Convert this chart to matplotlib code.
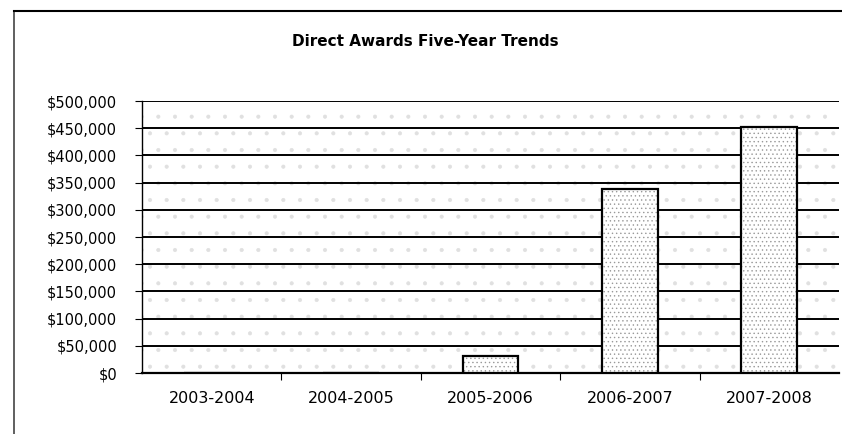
import matplotlib.pyplot as plt
from matplotlib.ticker import FuncFormatter
from matplotlib.lines import Line2D

years = ['2003-2004', '2004-2005', '2005-2006', '2006-2007', '2007-2008']
awards = [0, 0, 32000, 338000, 452000]

plt.rcParams['font.family'] = ['DejaVu Sans']
plt.rcParams['hatch.linewidth'] = 0.5

fig = plt.figure(figsize=(8.42, 4.34), dpi=100)
ax = fig.add_axes([142 / 842, 1 - 373 / 434, 697 / 842, 272 / 434])

# faint stippled plot background
ax.set_facecolor('white')
ax.patch.set_hatch('.')
ax.patch.set_edgecolor('#e0e0e0')

x = range(len(years))
# stipple fill of the bars, then black outline on top
ax.bar(x, awards, width=0.4, facecolor='white', edgecolor='#999999',
       linewidth=0, hatch='....', zorder=3)
ax.bar(x, awards, width=0.4, facecolor='none', edgecolor='black',
       linewidth=1.6, zorder=4)

ax.set_xlim(-0.5, len(years) - 0.5)
ax.set_ylim(0, 500000)
ax.set_yticks(range(0, 500001, 50000))
ax.yaxis.set_major_formatter(FuncFormatter(lambda v, p: '${:,.0f}'.format(v)))
ax.grid(axis='y', color='black', linewidth=1.4, zorder=1)
ax.set_axisbelow(True)

ax.set_xticks([i + 0.5 for i in range(len(years) - 1)], minor=False)
ax.set_xticklabels([])
ax.set_xticks(list(x), minor=True)
ax.set_xticklabels(years, minor=True)
ax.tick_params(axis='x', which='minor', length=0, pad=13, labelsize=11.5)
ax.tick_params(axis='x', which='major', length=5, direction='out')
ax.tick_params(axis='y', length=5, labelsize=10.5, pad=13)

for s in ['top', 'right']:
    ax.spines[s].set_visible(False)
ax.spines['left'].set_linewidth(1.0)
ax.spines['bottom'].set_linewidth(1.6)

fig.text(425 / 842, 1 - 42 / 434, 'Direct Awards Five-Year Trends',
         ha='center', va='center', fontsize=11, fontweight='bold')

# outer chart frame
fig.add_artist(Line2D([14 / 842, 14 / 842], [0, 1 - 11 / 434],
                      color='#444444', linewidth=1.2))
fig.add_artist(Line2D([14 / 842, 1], [1 - 11 / 434, 1 - 11 / 434],
                      color='black', linewidth=1.5))

fig.savefig('out.png', dpi=100)
